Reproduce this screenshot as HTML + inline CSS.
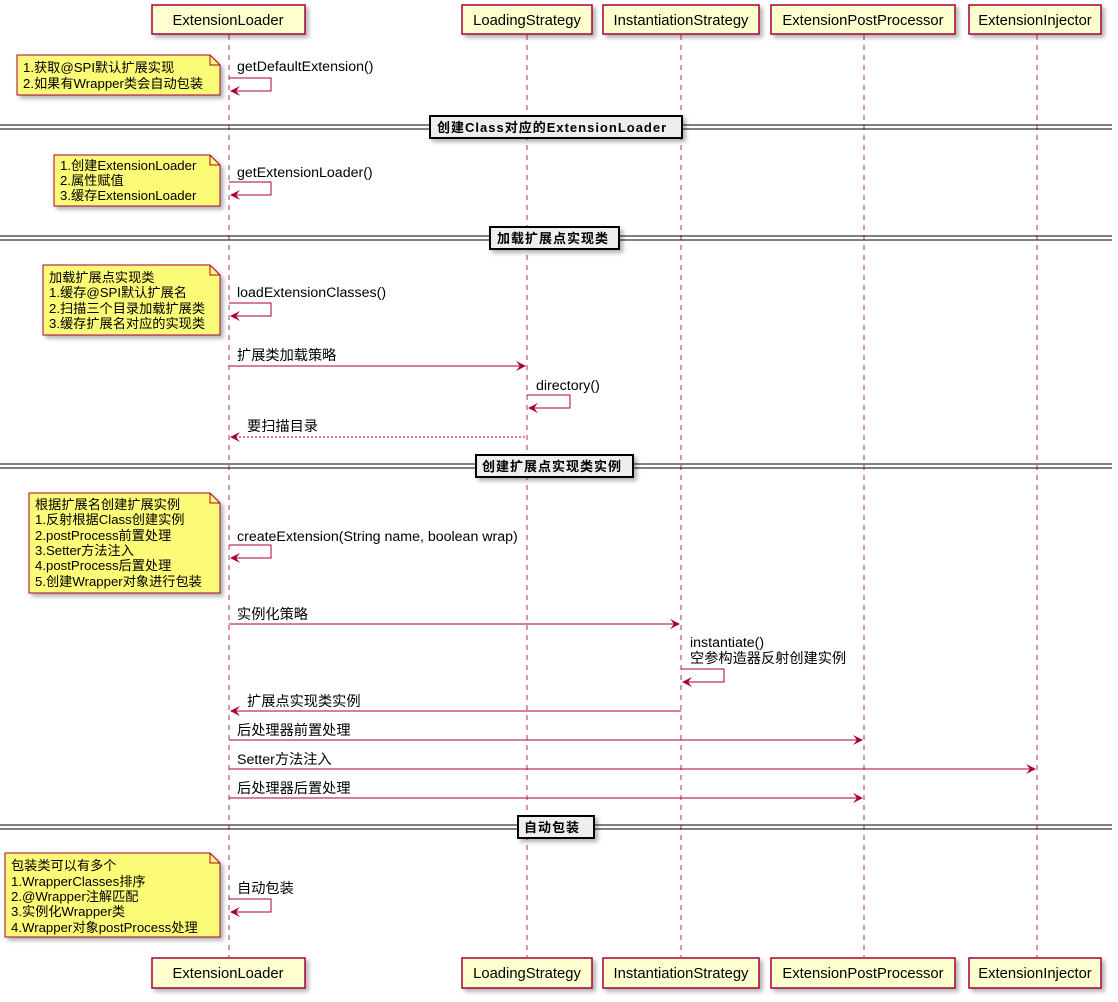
<!DOCTYPE html>
<html><head><meta charset="utf-8"><style>
html,body{margin:0;padding:0;background:#fff;}
svg{display:block;}
text{font-family:"Liberation Sans","Noto Sans CJK SC",sans-serif;font-size:14.2px;fill:#000;}
.n{font-size:13.2px;}
.p{font-size:14.8px;}
.b{font-weight:bold;letter-spacing:1px;font-size:13px;}
</style></head><body>
<svg width="1118" height="1002" viewBox="0 0 1118 1002" xmlns="http://www.w3.org/2000/svg">
<defs>
<filter id="sh" x="-10%" y="-10%" width="130%" height="140%"><feDropShadow dx="3" dy="3" stdDeviation="2" flood-color="#000" flood-opacity="0.3"/></filter>
</defs>
<g stroke="#A80036" stroke-opacity="0.55" stroke-width="1.5" stroke-dasharray="5,5">
<line x1="229" y1="35" x2="229" y2="957"/>
<line x1="527" y1="35" x2="527" y2="957"/>
<line x1="681" y1="35" x2="681" y2="957"/>
<line x1="864" y1="35" x2="864" y2="957"/>
<line x1="1037" y1="35" x2="1037" y2="957"/>
</g>
<g fill="#FEFECE" stroke="#A80036" stroke-width="1.5" filter="url(#sh)">
<rect x="152" y="5" width="153" height="29"/><rect x="462" y="5" width="130" height="29"/>
<rect x="603" y="5" width="156" height="29"/><rect x="771" y="5" width="184" height="29"/>
<rect x="969" y="5" width="132" height="29"/>
<rect x="152" y="958" width="153" height="30"/><rect x="462" y="958" width="130" height="30"/>
<rect x="603" y="958" width="156" height="30"/><rect x="771" y="958" width="184" height="30"/>
<rect x="969" y="958" width="132" height="30"/>
</g>
<g text-anchor="middle" class="p">
<text class="p" x="228" y="25">ExtensionLoader</text><text class="p" x="527" y="25">LoadingStrategy</text>
<text class="p" x="681" y="25">InstantiationStrategy</text><text class="p" x="863" y="25">ExtensionPostProcessor</text>
<text class="p" x="1035" y="25">ExtensionInjector</text>
<text class="p" x="228" y="978">ExtensionLoader</text><text class="p" x="527" y="978">LoadingStrategy</text>
<text class="p" x="681" y="978">InstantiationStrategy</text><text class="p" x="863" y="978">ExtensionPostProcessor</text>
<text class="p" x="1035" y="978">ExtensionInjector</text>
</g>
<g stroke="#000" stroke-width="1">
<line x1="0" y1="125" x2="1112" y2="125"/><line x1="0" y1="129" x2="1112" y2="129"/>
<line x1="0" y1="236" x2="1112" y2="236"/><line x1="0" y1="240" x2="1112" y2="240"/>
<line x1="0" y1="464" x2="1112" y2="464"/><line x1="0" y1="468" x2="1112" y2="468"/>
<line x1="0" y1="825" x2="1112" y2="825"/><line x1="0" y1="829" x2="1112" y2="829"/>
</g>
<g fill="#EEEEEE" stroke="#000" stroke-width="2" filter="url(#sh)">
<rect x="430" y="116" width="252" height="22"/><rect x="490" y="227" width="129" height="22"/>
<rect x="476" y="455" width="157" height="22"/><rect x="518" y="816" width="76" height="22"/>
</g>
<text class="b" x="437" y="132">创建Class对应的ExtensionLoader</text>
<text class="b" x="497" y="243">加载扩展点实现类</text>
<text class="b" x="482" y="471">创建扩展点实现类实例</text>
<text class="b" x="524" y="832">自动包装</text>
<g fill="#FBFB77" stroke="#A80036" stroke-width="1" filter="url(#sh)">
<path d="M17,55 H210 L220,65 V95 H17 Z"/>
<path d="M54,155 H210 L220,165 V206 H54 Z"/>
<path d="M43,265 H210 L220,275 V335 H43 Z"/>
<path d="M29,493 H210 L220,503 V593 H29 Z"/>
<path d="M5,853 H210 L220,863 V937 H5 Z"/>
</g>
<g fill="none" stroke="#A80036" stroke-width="1">
<path d="M210,55 V65 H220"/><path d="M210,155 V165 H220"/><path d="M210,265 V275 H220"/>
<path d="M210,493 V503 H220"/><path d="M210,853 V863 H220"/>
</g>
<g class="n">
<text class="n" x="23" y="72">1.获取@SPI默认扩展实现</text><text class="n" x="23" y="88">2.如果有Wrapper类会自动包装</text>
<text class="n" x="60" y="170">1.创建ExtensionLoader</text><text class="n" x="60" y="185">2.属性赋值</text><text class="n" x="60" y="200">3.缓存ExtensionLoader</text>
<text class="n" x="49" y="282">加载扩展点实现类</text><text class="n" x="49" y="297">1.缓存@SPI默认扩展名</text><text class="n" x="49" y="313">2.扫描三个目录加载扩展类</text><text class="n" x="49" y="328">3.缓存扩展名对应的实现类</text>
<text class="n" x="35" y="509">根据扩展名创建扩展实例</text><text class="n" x="35" y="524">1.反射根据Class创建实例</text><text class="n" x="35" y="540">2.postProcess前置处理</text><text class="n" x="35" y="555">3.Setter方法注入</text><text class="n" x="35" y="570">4.postProcess后置处理</text><text class="n" x="35" y="586">5.创建Wrapper对象进行包装</text>
<text class="n" x="11" y="870">包装类可以有多个</text><text class="n" x="11" y="886">1.WrapperClasses排序</text><text class="n" x="11" y="901">2.@Wrapper注解匹配</text><text class="n" x="11" y="916">3.实例化Wrapper类</text><text class="n" x="11" y="932">4.Wrapper对象postProcess处理</text>
</g>
<g fill="none" stroke="#A80036" stroke-width="1">
<path d="M229,78 H271 V91 H231"/><path d="M229,182 H271 V195 H231"/><path d="M229,303 H271 V316 H231"/>
<path d="M229,545 H271 V558 H231"/><path d="M229,899 H271 V912 H231"/>
<path d="M527,395 H570 V408 H529"/><path d="M681,669 H724 V682 H683"/>
<line x1="229" y1="366" x2="525" y2="366"/>
<line x1="231" y1="437" x2="527" y2="437" stroke-dasharray="2,2"/>
<line x1="229" y1="624" x2="679" y2="624"/>
<line x1="231" y1="711" x2="681" y2="711"/>
<line x1="229" y1="740" x2="862" y2="740"/>
<line x1="229" y1="769" x2="1035" y2="769"/>
<line x1="229" y1="798" x2="862" y2="798"/>
</g>
<g fill="#A80036">
<polygon points="230,91 240,86 236,91 240,96"/><polygon points="230,195 240,190 236,195 240,200"/>
<polygon points="230,316 240,311 236,316 240,321"/><polygon points="230,558 240,553 236,558 240,563"/>
<polygon points="230,912 240,907 236,912 240,917"/><polygon points="528,408 538,403 534,408 538,413"/>
<polygon points="682,682 692,677 688,682 692,687"/>
<polygon points="230,437 240,432 236,437 240,442"/><polygon points="230,711 240,706 236,711 240,716"/>
<polygon points="526,366 516,361 520,366 516,371"/><polygon points="680,624 670,619 674,624 670,629"/>
<polygon points="863,740 853,735 857,740 853,745"/><polygon points="1036,769 1026,764 1030,769 1026,774"/>
<polygon points="863,798 853,793 857,798 853,803"/>
</g>
<text x="237" y="71">getDefaultExtension()</text>
<text x="237" y="177">getExtensionLoader()</text>
<text x="237" y="297">loadExtensionClasses()</text>
<text x="237" y="360">扩展类加载策略</text>
<text x="536" y="390">directory()</text>
<text x="247" y="431">要扫描目录</text>
<text x="237" y="541">createExtension(String name, boolean wrap)</text>
<text x="237" y="619">实例化策略</text>
<text x="690" y="647">instantiate()</text><text x="690" y="663">空参构造器反射创建实例</text>
<text x="247" y="706">扩展点实现类实例</text>
<text x="237" y="735">后处理器前置处理</text>
<text x="237" y="764">Setter方法注入</text>
<text x="237" y="793">后处理器后置处理</text>
<text x="237" y="893">自动包装</text>
</svg>
</body></html>
